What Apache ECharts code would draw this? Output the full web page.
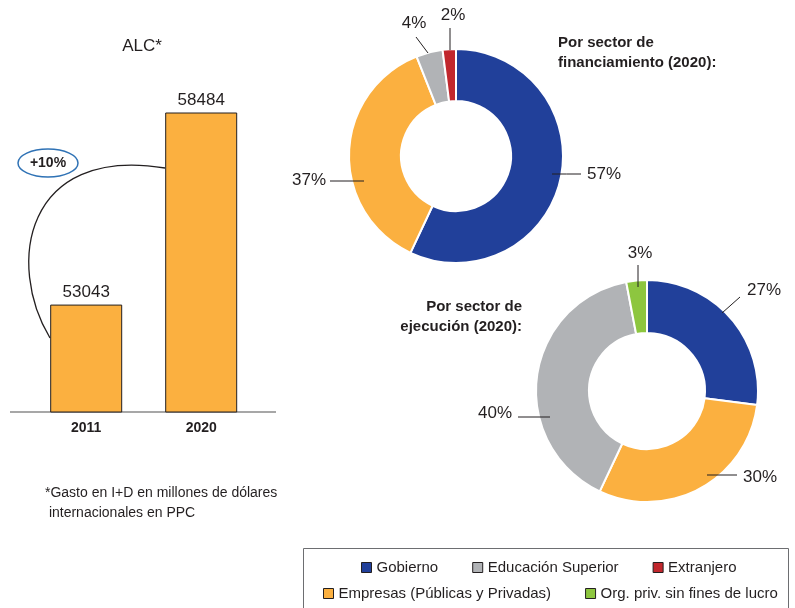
<!DOCTYPE html>
<html>
<head>
<meta charset="utf-8">
<script src="https://cdn.jsdelivr.net/npm/echarts@6/dist/echarts.min.js"></script>
<style>
  html, body { margin: 0; padding: 0; background: #fff; }
  #chart { width: 795px; height: 608px; }
</style>
</head>
<body>
<div id="chart"></div>
<script>
// data
const years = ['2011', '2020'];
const gasto = [53043, 58484]; // millones de dólares PPC

const finNames = ['Gobierno', 'Empresas (Públicas y Privadas)', 'Educación Superior', 'Extranjero'];
const finValues = [57, 37, 4, 2];

const ejeNames = ['Gobierno', 'Empresas (Públicas y Privadas)', 'Educación Superior', 'Org. priv. sin fines de lucro'];
const ejeValues = [27, 30, 40, 3];

const legendRow1 = ['Gobierno', 'Educación Superior', 'Extranjero'];
const legendRow2 = ['Empresas (Públicas y Privadas)', 'Org. priv. sin fines de lucro'];

const colors = {
  'Gobierno': '#21409a',
  'Empresas (Públicas y Privadas)': '#fbb040',
  'Educación Superior': '#b1b3b6',
  'Extranjero': '#c1272d',
  'Org. priv. sin fines de lucro': '#8dc63f'
};

const FONT = '"Liberation Sans", Arial, Helvetica, sans-serif';
const INK = '#231f20';

const finCenter = [456, 156];
const ejeCenter = [647, 391];

// label spots relative to the donut centre: text anchor and guide line start/end
const finSpots = [
  { text: [131, 18], align: 'left', line: [96, 18, 125, 18] },
  { text: [-130, 24], align: 'right', line: [-126, 25, -92, 25] },
  { text: [-42, -133], align: 'center', line: [-40, -119, -28, -103] },
  { text: [-3, -141], align: 'center', line: [-6, -128, -6, -106] }
];
const ejeSpots = [
  { text: [117, -101], align: 'center', line: [75, -78, 93, -94] },
  { text: [96, 86], align: 'left', line: [60, 84, 90, 84] },
  { text: [-135, 22], align: 'right', line: [-129, 26, -97, 26] },
  { text: [-7, -138], align: 'center', line: [-9, -126, -9, -104] }
];

function placeLabels(center, spots) {
  return function (p) {
    const s = spots[p.dataIndex];
    const cx = center[0], cy = center[1];
    const a = [cx + s.line[0], cy + s.line[1]];
    const b = [cx + s.line[2], cy + s.line[3]];
    return {
      x: cx + s.text[0],
      y: cy + s.text[1],
      align: s.align,
      verticalAlign: 'middle',
      labelLinePoints: [b, [(a[0] + b[0]) / 2, (a[1] + b[1]) / 2], a]
    };
  };
}

function donut(name, names, values, center, radius) {
  return {
    name: name,
    type: 'pie',
    center: center,
    radius: radius,
    startAngle: 90,
    clockwise: true,
    animation: false,
    itemStyle: { borderColor: '#fff', borderWidth: 2 },
    label: { show: false },
    labelLine: { show: false },
    emphasis: { disabled: true },
    data: names.map((n, i) => ({ name: n, value: values[i], itemStyle: { color: colors[n] } }))
  };
}

// same slices, invisible, drawn on top so the guide lines can cross the ring
function donutLabels(name, names, values, center, radius, spots) {
  return {
    name: name + ' (etiquetas)',
    type: 'pie',
    z: 4,
    silent: true,
    legendHoverLink: false,
    center: center,
    radius: radius,
    startAngle: 90,
    clockwise: true,
    avoidLabelOverlap: false,
    animation: false,
    itemStyle: { color: 'rgba(0,0,0,0)', borderWidth: 0 },
    label: {
      show: true,
      position: 'outside',
      formatter: '{c}%',
      fontFamily: FONT,
      fontSize: 17,
      color: INK
    },
    labelLine: { show: true, lineStyle: { color: INK, width: 1 } },
    labelLayout: placeLabels(center, spots),
    emphasis: { disabled: true },
    data: names.map((n, i) => ({ name: n, value: values[i] }))
  };
}

const legendBase = {
  orient: 'horizontal',
  icon: 'rect',
  itemWidth: 10,
  itemHeight: 10,
  itemGap: 34,
  padding: 0,
  selectedMode: false,
  itemStyle: { borderColor: INK, borderWidth: 1 },
  textStyle: { fontFamily: FONT, fontSize: 15, color: INK, padding: [0, 0, 0, 0] }
};

const chart = echarts.init(document.getElementById('chart'), null, { renderer: 'canvas' });

chart.setOption({
  animation: false,
  backgroundColor: '#fff',
  textStyle: { fontFamily: FONT },
  grid: { left: 28.7, width: 230, top: 59, bottom: 196 },
  xAxis: {
    type: 'category',
    data: years,
    axisLine: { show: false },
    axisTick: { show: false },
    axisLabel: { fontFamily: FONT, fontSize: 14, fontWeight: 'bold', color: INK, margin: 9 }
  },
  yAxis: {
    type: 'value',
    min: 50000,
    max: 60000,
    show: false
  },
  legend: [
    Object.assign({}, legendBase, { data: legendRow1, left: 361, top: 560 }),
    Object.assign({}, legendBase, { data: legendRow2, left: 323, top: 586 })
  ],
  series: [
    {
      type: 'bar',
      data: gasto,
      barWidth: 72,
      itemStyle: { color: '#fbb040', borderColor: INK, borderWidth: 1 },
      label: { show: true, position: 'top', distance: 4, fontFamily: FONT, fontSize: 17, color: INK },
      emphasis: { disabled: true }
    },
    donut('Por sector de financiamiento', finNames, finValues, finCenter, [55, 107]),
    donut('Por sector de ejecución', ejeNames, ejeValues, ejeCenter, [58, 111]),
    donutLabels('Por sector de financiamiento', finNames, finValues, finCenter, [55, 107], finSpots),
    donutLabels('Por sector de ejecución', ejeNames, ejeValues, ejeCenter, [58, 111], ejeSpots)
  ],
  graphic: [
    // baseline of the bar chart
    { type: 'line', shape: { x1: 10, y1: 412, x2: 276, y2: 412 }, style: { stroke: '#8a8a8a', lineWidth: 1.5 }, z: 1 },
    // growth arc between the bars
    {
      type: 'bezierCurve',
      shape: { x1: 50, y1: 338, cpx1: 6, cpy1: 265, cpx2: 24, cpy2: 145, x2: 165, y2: 168 },
      style: { stroke: INK, lineWidth: 1.3, fill: null },
      z: 5
    },
    { type: 'ellipse', shape: { cx: 48, cy: 163, rx: 30, ry: 14 }, style: { stroke: '#2f72b5', lineWidth: 1.5, fill: '#fff' }, z: 6 },
    {
      type: 'text', x: 48, y: 163, z: 7,
      style: { text: '+10%', font: 'bold 14px ' + FONT, fill: INK, align: 'center', verticalAlign: 'middle' }
    },
    {
      type: 'text', x: 142, y: 46,
      style: { text: 'ALC*', font: '17px ' + FONT, fill: INK, align: 'center', verticalAlign: 'middle' }
    },
    {
      type: 'text', x: 45, y: 483,
      style: {
        text: '*Gasto en I+D en millones de dólares\n internacionales en PPC',
        font: '14px ' + FONT, fill: INK, align: 'left', verticalAlign: 'top', lineHeight: 20
      }
    },
    {
      type: 'text', x: 558, y: 33,
      style: {
        text: 'Por sector de\nfinanciamiento (2020):',
        font: 'bold 15px ' + FONT, fill: INK, align: 'left', verticalAlign: 'top', lineHeight: 20
      }
    },
    {
      type: 'text', x: 522, y: 297,
      style: {
        text: 'Por sector de\nejecución (2020):',
        font: 'bold 15px ' + FONT, fill: INK, align: 'right', verticalAlign: 'top', lineHeight: 20
      }
    },
    // frame around the legend
    { type: 'rect', shape: { x: 303.5, y: 548.5, width: 485, height: 70 }, style: { stroke: '#6d6e71', lineWidth: 1, fill: null }, z: 0 }
  ]
});
</script>
</body>
</html>
